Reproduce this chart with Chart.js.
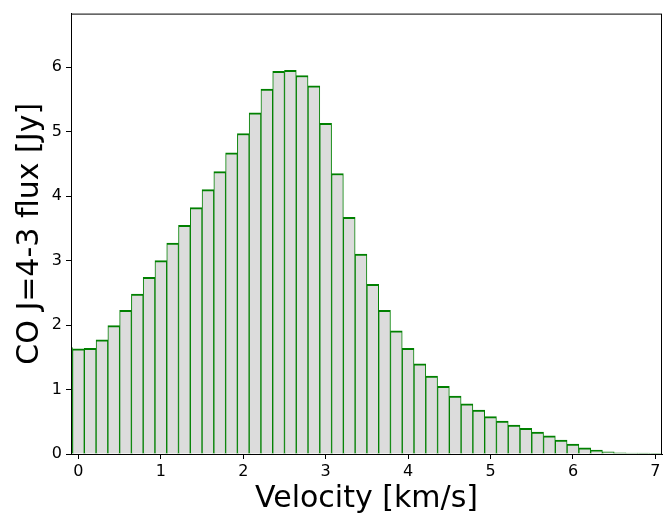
<!DOCTYPE html>
<html>
<head>
<meta charset="utf-8">
<script src="https://cdn.jsdelivr.net/npm/chart.js@4"></script>
<style>
  html, body { margin: 0; padding: 0; background: #fff; }
</style>
</head>
<body>
<canvas id="spectrum" width="664" height="517"></canvas>
<script>
// CO J=4-3 line profile, binned in velocity (bin centres, km/s)
const velocity = [
  -0.1429, 0.0, 0.1429, 0.2857, 0.4286, 0.5714, 0.7143, 0.8571,
  1.0, 1.1429, 1.2857, 1.4286, 1.5714, 1.7143, 1.8571,
  2.0, 2.1429, 2.2857, 2.4286, 2.5714, 2.7143, 2.8571,
  3.0, 3.1429, 3.2857, 3.4286, 3.5714, 3.7143, 3.8571,
  4.0, 4.1429, 4.2857, 4.4286, 4.5714, 4.7143, 4.8571,
  5.0, 5.1429, 5.2857, 5.4286, 5.5714, 5.7143, 5.8571,
  6.0, 6.1429, 6.2857, 6.4286, 6.5714, 6.7143, 6.8571, 7.0
];

// flux per bin [Jy]
const flux = [
  1.65, 1.63, 1.64, 1.77, 1.99, 2.23, 2.48, 2.74,
  3.00, 3.27, 3.545, 3.82, 4.10, 4.38, 4.67,
  4.97, 5.29, 5.66, 5.935, 5.95, 5.87, 5.71,
  5.13, 4.35, 3.67, 3.10, 2.63, 2.23, 1.91,
  1.64, 1.40, 1.21, 1.05, 0.90, 0.78, 0.68,
  0.58, 0.51, 0.45, 0.40, 0.34, 0.28, 0.215,
  0.155, 0.095, 0.062, 0.032, 0.02, 0.016, 0.013, 0.01
];

const xTicks = [0, 1, 2, 3, 4, 5, 6, 7];
const yTicks = [0, 1, 2, 3, 4, 5, 6];

const FONT = 'DejaVu Sans';

// box around the plotting area, like a matplotlib frame
const frame = {
  id: 'frame',
  afterDraw(chart) {
    const { ctx, chartArea: a } = chart;
    ctx.save();
    ctx.strokeStyle = '#000';
    ctx.lineWidth = 1;
    ctx.strokeRect(a.left + 0.5, a.top + 0.5, a.right - a.left - 1, a.bottom - a.top);
    ctx.restore();
  }
};

new Chart(document.getElementById('spectrum'), {
  type: 'bar',
  data: {
    datasets: [{
      data: velocity.map((v, i) => ({ x: v, y: flux[i] })),
      backgroundColor: '#dcdcdc',
      borderColor: '#008000',
      borderWidth: { top: 2, left: 1, right: 1, bottom: 0 },
      borderSkipped: false,
      barPercentage: 1,
      categoryPercentage: 1
    }]
  },
  options: {
    responsive: false,
    devicePixelRatio: 1,
    animation: false,
    layout: { padding: { top: 12, right: 2, left: 0, bottom: 0 } },
    plugins: { legend: { display: false }, tooltip: { enabled: false } },
    scales: {
      x: {
        type: 'linear',
        min: -0.09,
        max: 7.08,
        offset: false,
        afterBuildTicks: s => { s.ticks = xTicks.map(v => ({ value: v })); },
        afterFit: s => { s.height = 63; },
        grid: { display: true, drawOnChartArea: false, drawTicks: true, tickLength: 5, color: '#000', offset: false },
        border: { display: true, color: '#000', width: 1 },
        ticks: { color: '#000', font: { family: FONT, size: 16 }, padding: 3, maxRotation: 0 },
        title: {
          display: true,
          text: 'Velocity [km/s]',
          color: '#000',
          font: { family: FONT, size: 30 },
          padding: { top: 0, bottom: 0 }
        }
      },
      y: {
        min: 0,
        max: 6.83,
        afterBuildTicks: s => { s.ticks = yTicks.map(v => ({ value: v })); },
        afterFit: s => { s.width = 71; },
        grid: { display: true, drawOnChartArea: false, drawTicks: true, tickLength: 5, color: '#000' },
        border: { display: true, color: '#000', width: 1 },
        ticks: { color: '#000', font: { family: FONT, size: 16 }, padding: 4 },
        title: {
          display: true,
          text: 'CO J=4-3 flux [Jy]',
          color: '#000',
          font: { family: FONT, size: 30 },
          padding: { top: 12, bottom: 0 }
        }
      }
    }
  },
  plugins: [frame]
});
</script>
</body>
</html>
